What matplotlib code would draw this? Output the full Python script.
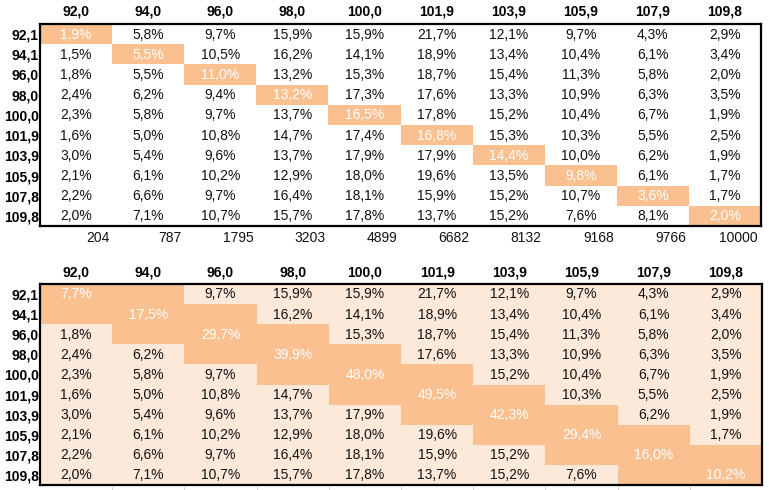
import numpy as np
import matplotlib
matplotlib.use("Agg")
import matplotlib.pyplot as plt
from matplotlib.colors import ListedColormap

plt.rcParams['font.family'] = ['Liberation Sans', 'DejaVu Sans']

# Datos
col_labels = ["92,0", "94,0", "96,0", "98,0", "100,0", "101,9", "103,9", "105,9", "107,9", "109,8"]
row_labels = ["92,1", "94,1", "96,0", "98,0", "100,0", "101,9", "103,9", "105,9", "107,8", "109,8"]
counts = [204, 787, 1795, 3203, 4899, 6682, 8132, 9168, 9766, 10000]

pct = np.array([
    [1.9, 5.8, 9.7, 15.9, 15.9, 21.7, 12.1, 9.7, 4.3, 2.9],
    [1.5, 5.5, 10.5, 16.2, 14.1, 18.9, 13.4, 10.4, 6.1, 3.4],
    [1.8, 5.5, 11.0, 13.2, 15.3, 18.7, 15.4, 11.3, 5.8, 2.0],
    [2.4, 6.2, 9.4, 13.2, 17.3, 17.6, 13.3, 10.9, 6.3, 3.5],
    [2.3, 5.8, 9.7, 13.7, 16.5, 17.8, 15.2, 10.4, 6.7, 1.9],
    [1.6, 5.0, 10.8, 14.7, 17.4, 16.8, 15.3, 10.3, 5.5, 2.5],
    [3.0, 5.4, 9.6, 13.7, 17.9, 17.9, 14.4, 10.0, 6.2, 1.9],
    [2.1, 6.1, 10.2, 12.9, 18.0, 19.6, 13.5, 9.8, 6.1, 1.7],
    [2.2, 6.6, 9.7, 16.4, 18.1, 15.9, 15.2, 10.7, 3.6, 1.7],
    [2.0, 7.1, 10.7, 15.7, 17.8, 13.7, 15.2, 7.6, 8.1, 2.0],
])

# totales de la banda (tabla de abajo)
band = [7.7, 17.5, 29.7, 39.9, 48.0, 49.5, 42.3, 29.4, 16.0, 10.2]

ORANGE = "#FAC090"
LIGHT = "#FDE9D9"

W, H = 769, 490
fig = plt.figure(figsize=(W / 100, H / 100), dpi=100)

def fmt(v):
    return ("%.1f%%" % v).replace(".", ",")

def setup(ax, header_pad):
    ax.set_xlim(0, 10)
    ax.set_ylim(10, 0)
    ax.set_xticks(np.arange(10) + 0.5)
    ax.set_xticklabels(col_labels, fontsize=10, fontweight="bold")
    ax.set_yticks(np.arange(10) + 0.5)
    ax.set_yticklabels(row_labels, fontsize=10, fontweight="bold")
    ax.xaxis.tick_top()
    ax.tick_params(axis="x", length=0, pad=header_pad)
    ax.tick_params(axis="y", length=0, pad=0.8)
    for s in ax.spines.values():
        s.set_linewidth(1.6)
        s.set_color("black")

n = len(row_labels)
idx = np.arange(n)

# ---- Tabla de arriba ----
ax1 = fig.add_axes([40 / W, 1 - 226 / H, 721 / W, 202 / H])
M1 = (idx[:, None] == idx[None, :]).astype(float)
ax1.pcolormesh(np.arange(n + 1), np.arange(n + 1), M1,
               cmap=ListedColormap(["white", ORANGE]), vmin=0, vmax=1)
setup(ax1, 3.6)
for i in range(n):
    for j in range(n):
        c = "white" if i == j else "#111111"
        ax1.text(j + 0.5, i + 0.52, fmt(pct[i, j]), ha="center", va="center",
                 fontsize=10, color=c)
for j in range(n):
    ax1.text(j + 0.96, 10.6, str(counts[j]), ha="right", va="center",
             fontsize=10, color="#111111", clip_on=False)

# ---- Tabla de abajo ----
ax2 = fig.add_axes([40 / W, 1 - 485 / H, 722 / W, 201 / H])
M2 = (np.abs(idx[:, None] - idx[None, :]) <= 1).astype(float)
ax2.pcolormesh(np.arange(n + 1), np.arange(n + 1), M2,
               cmap=ListedColormap([LIGHT, ORANGE]), vmin=0, vmax=1)
setup(ax2, 3.0)
for i in range(n):
    for j in range(n):
        if i == j:
            ax2.text(j + 0.5, i + 0.52, fmt(band[i]), ha="center", va="center",
                     fontsize=10, color="white")
        elif abs(i - j) > 1:
            ax2.text(j + 0.5, i + 0.52, fmt(pct[i, j]), ha="center", va="center",
                     fontsize=10, color="#111111")
# rayitas de la cuadricula bajo la tabla
ax2.vlines(np.arange(1, n), 10.05, 10.3, color="#d4d4d4", lw=0.8, clip_on=False)

fig.savefig("out.png", dpi=100)
